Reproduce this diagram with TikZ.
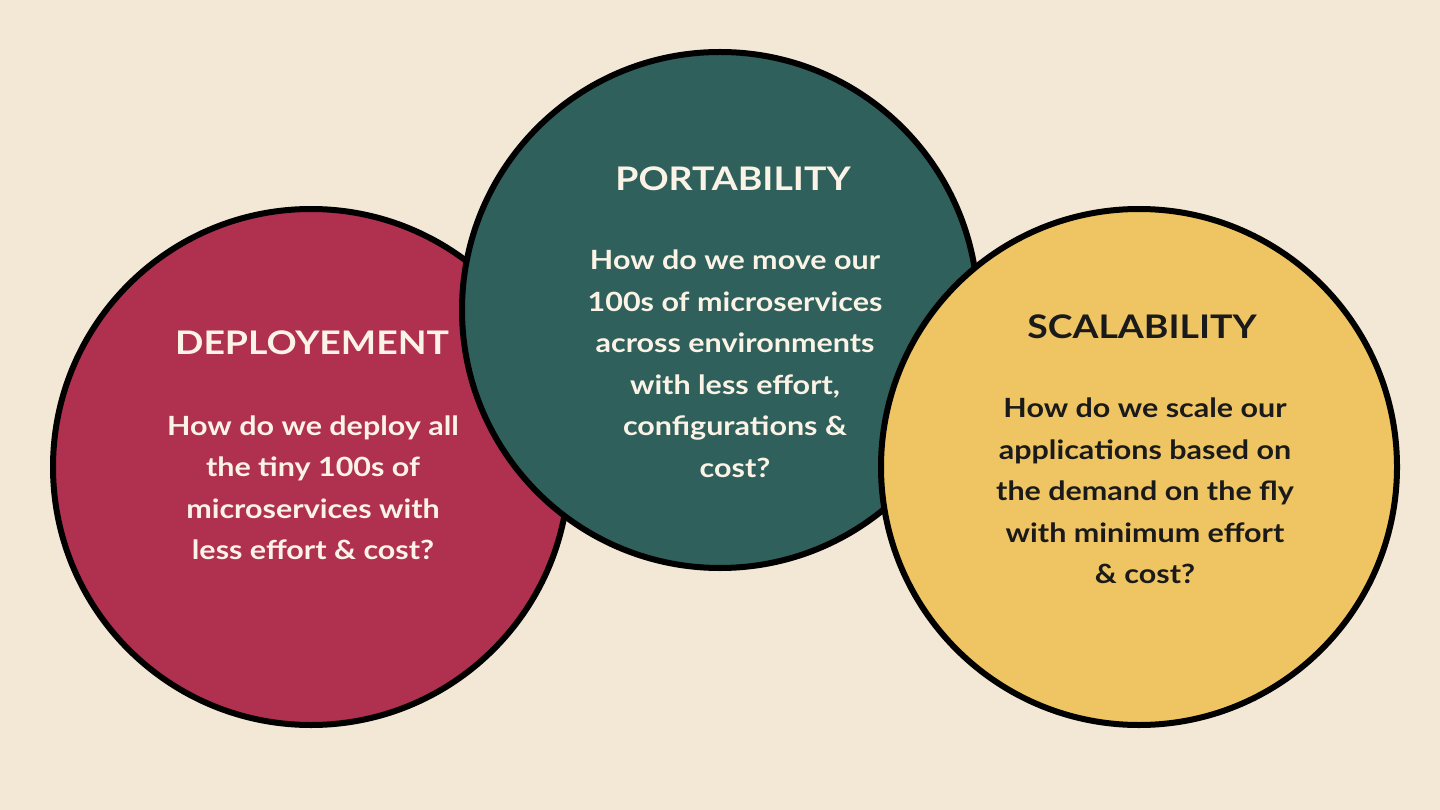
\documentclass[tikz,border=0pt]{standalone}
\usepackage{fontspec}
\setmainfont{Lato}[FakeStretch=1.15]
\definecolor{paper}{HTML}{F2E8D5}
\definecolor{berry}{HTML}{B0304F}
\definecolor{pine}{HTML}{30605B}
\definecolor{mustard}{HTML}{EEC562}
\definecolor{cream}{HTML}{FBF3E6}
\definecolor{ink}{HTML}{1A1A1A}
\begin{document}
\begin{tikzpicture}[x=1pt,y=-1pt,
  bubble/.style={circle, draw=black, line width=6pt, minimum size=516pt, inner sep=0pt},
  heading/.style={font=\fontsize{32.5}{40}\selectfont\bfseries},
  body/.style={align=center, font=\fontsize{26.5}{41.5}\selectfont\bfseries}]
  \fill[paper] (0,0) rectangle (1440,810);
  \useasboundingbox (0,0) rectangle (1440,810);

  % three overlapping bubbles, later ones on top
  \node[bubble, fill=berry]   (dep)  at (311,467) {};
  \node[bubble, fill=pine]    (port) at (720,310) {};
  \node[bubble, fill=mustard] (scal) at (1139,467) {};

  % deployment
  \node[heading, text=cream] (depT) at (312,343) {DEPLOYEMENT};
  \node[body, text=cream] (depB) at (313,488) {How do we deploy all\\the tiny 100s of\\microservices with\\less effort \& cost?};

  % portability
  \node[heading, text=cream] (portT) at (733,179) {PORTABILITY};
  \node[body, text=cream] (portB) at (735,364) {How do we move our\\100s of microservices\\across environments\\with less effort,\\configurations \&\\cost?};

  % scalability
  \node[heading, text=ink] (scalT) at (1142,327) {SCALABILITY};
  \node[body, text=ink] (scalB) at (1145,491) {How do we scale our\\applications based on\\the demand on the fly\\with minimum effort\\\& cost?};
\end{tikzpicture}
\end{document}
